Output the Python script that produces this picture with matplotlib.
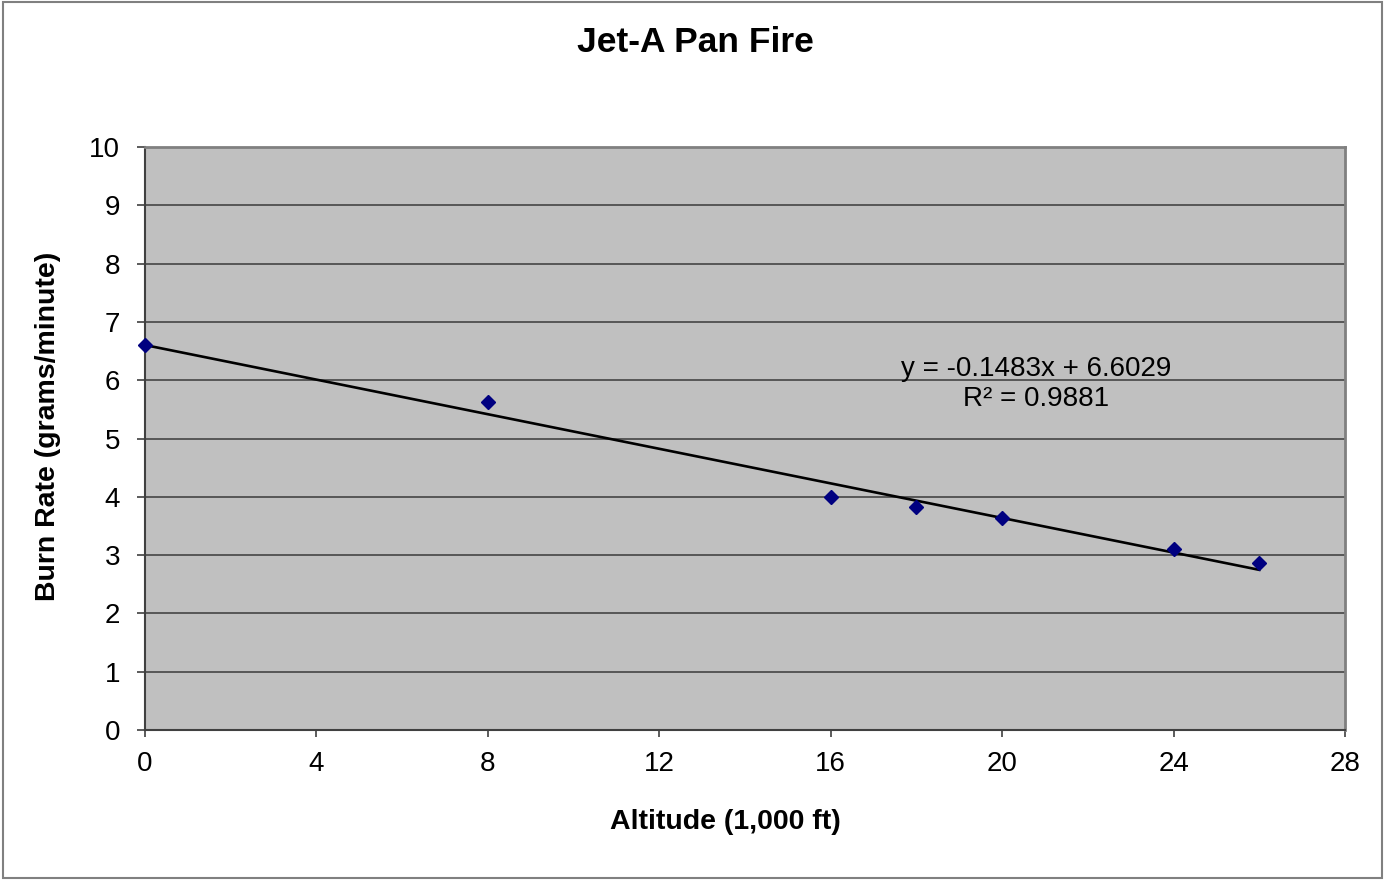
import numpy as np
import matplotlib
matplotlib.use("Agg")
import matplotlib.pyplot as plt
from matplotlib.patches import Rectangle

plt.rcParams['font.family'] = ['Liberation Sans', 'DejaVu Sans']

# altitude in 1,000 ft, burn rate in grams/minute
altitude = [0, 8, 16, 18, 20, 24, 26]
burn_rate = [6.60, 5.62, 4.00, 3.82, 3.63, 3.10, 2.87]
slope, intercept = -0.1483, 6.6029
r_squared = 0.9881

x_ticks = [0, 4, 8, 12, 16, 20, 24, 28]
y_ticks = list(range(0, 11))

W, H = 1385, 880
fig = plt.figure(figsize=(W / 100, H / 100), dpi=100)
ax = fig.add_axes([145 / W, (H - 730) / H, 1200 / W, 583 / H])

ax.set_facecolor('#c0c0c0')
ax.set_xlim(0, 28)
ax.set_ylim(0, 10)
ax.set_xticks(x_ticks)
ax.set_yticks(y_ticks)
ax.grid(axis='y', color='#3a3a3a', linewidth=1.1)
ax.set_axisbelow(True)

# trendline
xs = np.array([min(altitude), max(altitude)])
ax.plot(xs, slope * xs + intercept, color='black', linewidth=1.9, zorder=3)
ax.plot(altitude, burn_rate, linestyle='none', marker='D', markersize=7.5,
        color='#000080', zorder=4, clip_on=False)

ax.text(20.8, 5.93, f"y = {slope}x + {intercept}\nR² = {r_squared}",
        ha='center', va='center', fontsize=20, color='black',
        linespacing=1.2, multialignment='center')

for side in ['left', 'bottom']:
    ax.spines[side].set_color('#404040')
    ax.spines[side].set_linewidth(1.5)
for side in ['top', 'right']:
    ax.spines[side].set_color('#808080')
    ax.spines[side].set_linewidth(2)

ax.tick_params(axis='y', direction='out', length=6, width=1.2, color='#404040',
               labelsize=20, pad=12)
ax.tick_params(axis='x', direction='out', length=5, width=1.2, color='#404040',
               labelsize=20, pad=10)

fig.text(695 / W, 1 - 42 / H, 'Jet-A Pan Fire', ha='center', va='center',
         fontsize=25.5, fontweight='bold')
fig.text(725 / W, 1 - 822 / H, 'Altitude (1,000 ft)', ha='center', va='center',
         fontsize=20.5, fontweight='bold')
fig.text(48 / W, 1 - 426 / H, 'Burn Rate (grams/minute)', ha='center', va='center',
         rotation=90, fontsize=20.5, fontweight='bold')

fig.patches.append(Rectangle((3 / W, 2 / H), (W - 6) / W, (H - 4) / H,
                             transform=fig.transFigure, fill=False,
                             edgecolor='#808080', linewidth=1.5))

fig.savefig('out.png', dpi=100)
